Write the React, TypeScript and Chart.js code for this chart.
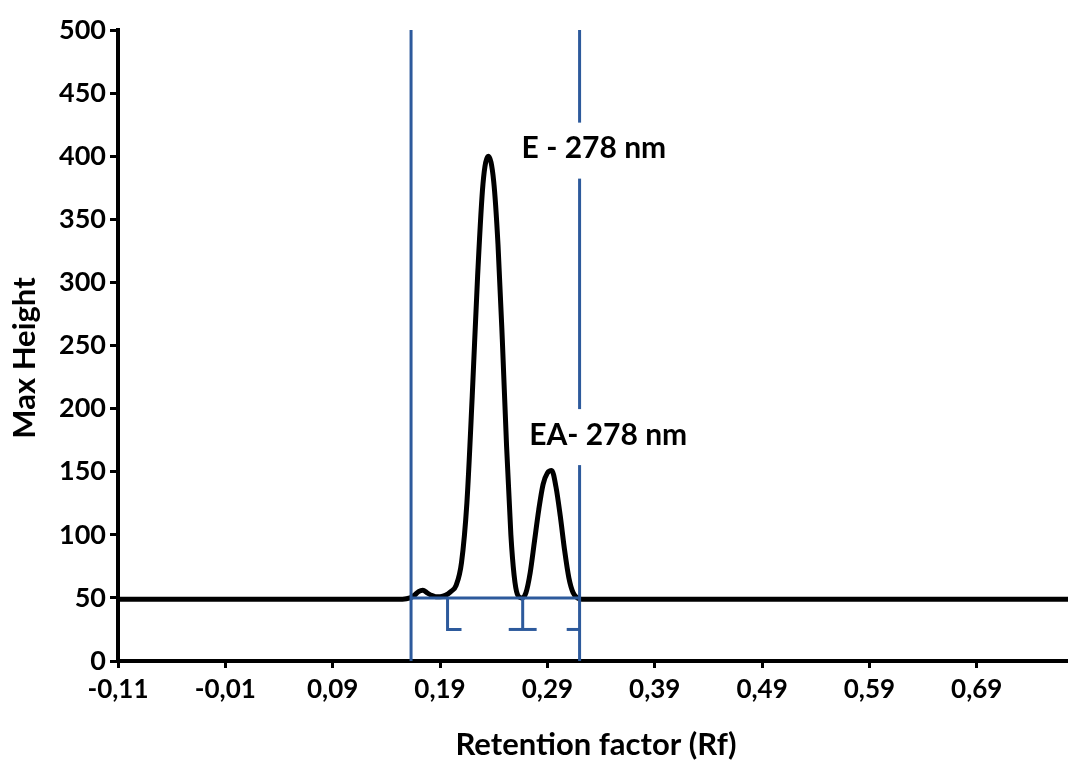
import React, { useEffect, useRef } from 'react';
import { Chart, registerables } from 'chart.js';

Chart.register(...registerables);

// Densitogram trace (Rf vs Max Height)
const rfValues = [
  -0.11, 0.0, 0.1, 0.155, 0.162, 0.166, 0.17, 0.174, 0.178, 0.182, 0.186, 0.19, 0.195, 0.2,
  0.205, 0.21, 0.215, 0.22, 0.225, 0.23, 0.235, 0.24, 0.244, 0.248, 0.252, 0.256, 0.259,
  0.262, 0.266, 0.27, 0.274, 0.278, 0.282, 0.286, 0.29, 0.294, 0.298, 0.302, 0.306, 0.31,
  0.314, 0.318, 0.322, 0.4, 0.6, 0.78,
];
const maxHeightValues = [
  49, 49, 49, 49, 50, 52, 55, 56, 54, 52, 51, 51, 52, 55,
  60, 78, 125, 210, 305, 378, 400, 380, 330, 255, 170, 100, 68,
  53, 50, 54, 70, 95, 120, 140, 149, 151, 138, 115, 88, 66,
  54, 50, 49, 49, 49, 49,
];

// Axis ticks
const xTickValues = [-0.11, -0.01, 0.09, 0.19, 0.29, 0.39, 0.49, 0.59, 0.69];
const xMin = -0.11;
const xMax = 0.775;
const yMin = 0;
const yMax = 500;
const yStep = 50;

// Integration band and markers
const bandStartRf = 0.163;
const bandEndRf = 0.32;
const bandTopHeight = 500;
const baselineHeight = 50;
const markerHeight = 25;
const markerRfA = [0.197, 0.21];
const markerRfB = [0.254, 0.267, 0.28];
const markerRfC = [0.308, 0.32];

// Peak labels
const peakLabels = ['E - 278 nm', 'EA- 278 nm'];
const peakLabelRf = [0.266, 0.273];
const peakLabelHeight = [406, 179];

const xTitle = 'Retention factor (Rf)';
const yTitle = 'Max Height';

const BLUE = '#2d5a9c';
const FONT = 'Lato, "Open Sans", sans-serif';

const annotationPlugin = {
  id: 'peakAnnotations',
  afterDatasetsDraw(chart: any) {
    const { ctx, scales } = chart;
    const x = scales.x;
    const y = scales.y;
    ctx.save();
    ctx.font = `700 30px ${FONT}`;
    ctx.textBaseline = 'middle';
    ctx.textAlign = 'left';
    peakLabels.forEach((t, i) => {
      const px = x.getPixelForValue(peakLabelRf[i]);
      const py = y.getPixelForValue(peakLabelHeight[i]);
      const w = ctx.measureText(t).width;
      ctx.fillStyle = '#ffffff';
      ctx.fillRect(px - 8, py - 26, w + 16, 56);
      ctx.fillStyle = '#000000';
      ctx.fillText(t, px, py);
    });
    ctx.restore();
  },
  afterDraw(chart: any) {
    const { ctx } = chart;
    ctx.save();
    ctx.fillStyle = '#000000';
    ctx.font = `700 31px ${FONT}`;
    ctx.textAlign = 'center';
    ctx.textBaseline = 'middle';
    ctx.fillText(xTitle, 596, 745);
    ctx.translate(25, 358);
    ctx.rotate(-Math.PI / 2);
    ctx.fillText(yTitle, 0, 0);
    ctx.restore();
  },
};

function seg(points: { x: number; y: number }[]) {
  return {
    type: 'line' as const,
    data: points,
    borderColor: BLUE,
    borderWidth: 3,
    pointRadius: 0,
    tension: 0,
    fill: false,
    order: 0,
    clip: false as const,
  };
}

export default function App() {
  const canvasRef = useRef<HTMLCanvasElement | null>(null);

  useEffect(() => {
    document.body.style.margin = '0';
    const canvas = canvasRef.current;
    if (!canvas) return;
    const trace = rfValues.map((r, i) => ({ x: r, y: maxHeightValues[i] }));

    const chart = new Chart(canvas, {
      type: 'line',
      data: {
        datasets: [
          {
            data: trace,
            borderColor: '#000000',
            borderWidth: 5,
            pointRadius: 0,
            cubicInterpolationMode: 'monotone',
            fill: false,
            order: 1,
            clip: false,
          } as any,
          seg([{ x: bandStartRf, y: 0 }, { x: bandStartRf, y: bandTopHeight }]),
          seg([{ x: bandEndRf, y: 0 }, { x: bandEndRf, y: bandTopHeight }]),
          seg([{ x: bandStartRf, y: baselineHeight }, { x: bandEndRf, y: baselineHeight }]),
          seg([
            { x: markerRfA[0], y: baselineHeight },
            { x: markerRfA[0], y: markerHeight },
            { x: markerRfA[1], y: markerHeight },
          ]),
          seg([{ x: markerRfB[1], y: baselineHeight }, { x: markerRfB[1], y: markerHeight }]),
          seg([{ x: markerRfB[0], y: markerHeight }, { x: markerRfB[2], y: markerHeight }]),
          seg([{ x: markerRfC[0], y: markerHeight }, { x: markerRfC[1], y: markerHeight }]),
        ],
      },
      options: {
        animation: false,
        responsive: false,
        layout: { padding: { top: 30, right: 0, bottom: 0, left: 8 } },
        plugins: {
          legend: { display: false },
          tooltip: { enabled: false },
        },
        scales: {
          x: {
            type: 'linear',
            min: xMin,
            max: xMax,
            afterBuildTicks: (scale: any) => {
              scale.ticks = xTickValues.map((v) => ({ value: v }));
            },
            afterFit: (scale: any) => {
              scale.height = 103;
            },
            ticks: {
              color: '#000000',
              font: { family: FONT, size: 26, weight: 'bold' },
              padding: 6,
              maxRotation: 0,
              autoSkip: false,
              callback: (v: any) => Number(v).toFixed(2).replace('.', ','),
            },
            grid: {
              display: true,
              drawOnChartArea: false,
              drawTicks: true,
              tickLength: 7,
              color: '#000000',
              lineWidth: 3,
            },
            border: { display: true, color: '#000000', width: 4 },
          },
          y: {
            type: 'linear',
            min: yMin,
            max: yMax,
            afterFit: (scale: any) => {
              scale.width = 110;
            },
            ticks: {
              stepSize: yStep,
              color: '#000000',
              font: { family: FONT, size: 27, weight: 'bold' },
              padding: 4,
            },
            grid: {
              display: true,
              drawOnChartArea: false,
              drawTicks: true,
              tickLength: 8,
              color: '#000000',
              lineWidth: 3,
            },
            border: { display: true, color: '#000000', width: 4 },
          },
        },
      } as any,
      plugins: [annotationPlugin],
    });
    return () => chart.destroy();
  }, []);

  return (
    <div style={{ position: 'fixed', left: 0, top: 0, width: 1068, height: 764, background: '#fff' }}>
      <canvas ref={canvasRef} width={1068} height={764} />
    </div>
  );
}
